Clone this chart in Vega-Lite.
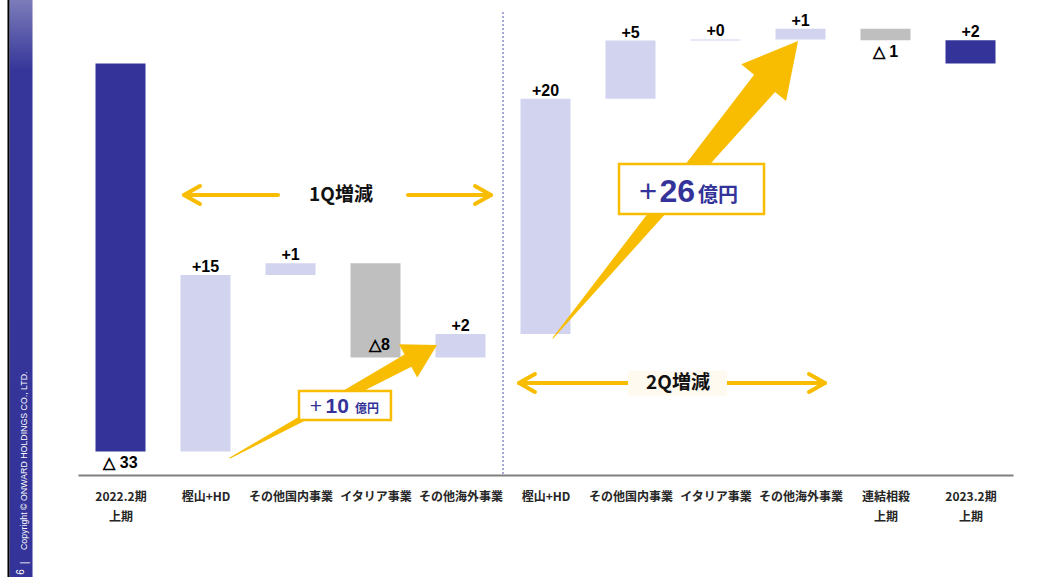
{
  "$schema": "https://vega.github.io/schema/vega-lite/v6.json",
  "width": 935,
  "height": 475,
  "autosize": {"type": "none"},
  "padding": {"left": 78, "top": 0, "right": 29, "bottom": 102},
  "background": "white",
  "config": {"view": {"stroke": null}},
  "datasets": {
    "bars": [
      {"x": 0, "y": -33, "y2": 0, "kind": "total", "lbl": "△ 33"},
      {"x": 1, "y": -18, "y2": -33, "kind": "up", "lbl": "+15"},
      {"x": 2, "y": -17, "y2": -18, "kind": "up", "lbl": "+1"},
      {"x": 3, "y": -25, "y2": -17, "kind": "down", "lbl": "△8"},
      {"x": 4, "y": -23, "y2": -25, "kind": "up", "lbl": "+2"},
      {"x": 5, "y": -3, "y2": -23, "kind": "up", "lbl": "+20"},
      {"x": 6, "y": 1.95, "y2": -3, "kind": "up", "lbl": "+5"},
      {"x": 7, "y": 2.05, "y2": 1.95, "kind": "up", "lbl": "+0"},
      {"x": 8, "y": 2.95, "y2": 2.05, "kind": "up", "lbl": "+1"},
      {"x": 9, "y": 1.98, "y2": 2.95, "kind": "down", "lbl": "△ 1"},
      {"x": 10, "y": 1.98, "y2": 0, "kind": "total", "lbl": "+2"}
    ],
    "dbl": [
      {"seg": "1Ls", "o": 0, "x": 0.747, "y": -11.185},
      {"seg": "1Ls", "o": 1, "x": 1.853, "y": -11.185},
      {"seg": "1Lh", "o": 0, "x": 0.935, "y": -10.42},
      {"seg": "1Lh", "o": 1, "x": 0.747, "y": -11.185},
      {"seg": "1Lh", "o": 2, "x": 0.935, "y": -11.95},
      {"seg": "1Rs", "o": 0, "x": 3.382, "y": -11.185},
      {"seg": "1Rs", "o": 1, "x": 4.359, "y": -11.185},
      {"seg": "1Rh", "o": 0, "x": 4.171, "y": -10.42},
      {"seg": "1Rh", "o": 1, "x": 4.359, "y": -11.185},
      {"seg": "1Rh", "o": 2, "x": 4.171, "y": -11.95},
      {"seg": "2Ls", "o": 0, "x": 4.688, "y": -27.175},
      {"seg": "2Ls", "o": 1, "x": 5.971, "y": -27.175},
      {"seg": "2Lh", "o": 0, "x": 4.876, "y": -26.41},
      {"seg": "2Lh", "o": 1, "x": 4.688, "y": -27.175},
      {"seg": "2Lh", "o": 2, "x": 4.876, "y": -27.94},
      {"seg": "2Rs", "o": 0, "x": 7.135, "y": -27.175},
      {"seg": "2Rs", "o": 1, "x": 8.288, "y": -27.175},
      {"seg": "2Rh", "o": 0, "x": 8.1, "y": -26.41},
      {"seg": "2Rh", "o": 1, "x": 8.288, "y": -27.175},
      {"seg": "2Rh", "o": 2, "x": 8.1, "y": -27.94}
    ],
    "shafts": [
      {"seg": "a1", "o": 0, "x": 1.288, "y": -33.554, "w": 0},
      {"seg": "a1", "o": 1, "x": 3.382, "y": -25.279, "w": 14},
      {"seg": "a2", "o": 0, "x": 5.088, "y": -23.348, "w": 0},
      {"seg": "a2", "o": 1, "x": 7.576, "y": -1.702, "w": 27}
    ],
    "boxes": [
      {"x": 2.1, "x2": 3.182, "y": -27.856, "y2": -30.322},
      {"x": 5.865, "x2": 7.571, "y": -8.549, "y2": -12.801}
    ]
  },
  "encoding": {
    "x": {
      "field": "x", "type": "quantitative",
      "scale": {"domain": [-0.5, 10.5], "nice": false, "zero": false, "padding": 0},
      "axis": {
        "title": null,
        "values": [0, 1, 2, 3, 4, 5, 6, 7, 8, 9, 10],
        "labelExpr": "[['2022.2期','上期'],'樫山+HD','その他国内事業','イタリア事業','その他海外事業','樫山+HD','その他国内事業','イタリア事業','その他海外事業',['連結相殺','上期'],['2023.2期','上期']][datum.value]",
        "ticks": false,
        "grid": false,
        "domainColor": "#7f7f7f",
        "domainWidth": 2,
        "labelFont": "Noto Sans CJK JP",
        "labelFontSize": 12,
        "labelFontWeight": "bold",
        "labelColor": "#262626",
        "labelLineHeight": 20,
        "labelPadding": 16,
        "labelFlush": false,
        "labelOverlap": false
      }
    },
    "y": {
      "field": "y", "type": "quantitative",
      "scale": {"domain": [-35, 5.4], "nice": false, "zero": false, "padding": 0},
      "axis": null
    }
  },
  "layer": [
    {
      "data": {"values": [{"x": -1.306, "x2": -1.035, "y": 5.4, "y2": -44}]},
      "mark": {"type": "rect", "fill": {"gradient": "linear", "x1": 0, "y1": 0, "x2": 0, "y2": 1, "stops": [{"offset": 0, "color": "#7c7cba"}, {"offset": 0.12, "color": "#36369a"}, {"offset": 1, "color": "#333399"}]}},
      "encoding": {"x2": {"field": "x2"}, "y2": {"field": "y2"}}
    },
    {
      "data": {"values": [{"x": -1.318, "y": 5.4, "y2": -44}]},
      "mark": {"type": "rule", "color": "#000000", "strokeWidth": 2},
      "encoding": {"y2": {"field": "y2"}}
    },
    {
      "data": {"values": [{"x": -1.135, "y": -41.38, "t": "Copyright © ONWARD HOLDINGS CO., LTD."}]},
      "mark": {"type": "text", "angle": 270, "align": "left", "baseline": "middle", "font": "Liberation Sans", "fontSize": 8.8, "color": "#ffffff"},
      "encoding": {"text": {"field": "t"}}
    },
    {
      "data": {"values": [{"x": -1.129, "y": -42.48, "t": "|"}, {"x": -1.171, "y": -43.25, "t": "6"}]},
      "mark": {"type": "text", "angle": 270, "align": "center", "baseline": "middle", "font": "Liberation Sans", "fontSize": 10, "color": "#ffffff"},
      "encoding": {"text": {"field": "t"}}
    },
    {
      "data": {"name": "bars"},
      "mark": {"type": "bar", "size": 50},
      "encoding": {
        "y2": {"field": "y2"},
        "color": {"field": "kind", "type": "nominal", "scale": {"domain": ["total", "up", "down"], "range": ["#333399", "#d1d3ef", "#bfbfbf"]}, "legend": null}
      }
    },
    {
      "data": {"name": "bars"},
      "transform": [{"filter": "datum.kind == 'up' || datum.x == 10"}],
      "mark": {"type": "text", "baseline": "alphabetic", "dy": -3, "font": "Liberation Sans", "fontWeight": "bold", "fontSize": 16, "color": "#000000"},
      "encoding": {"text": {"field": "lbl"}}
    },
    {
      "data": {"name": "bars"},
      "transform": [{"filter": "datum.x == 3"}],
      "mark": {"type": "text", "baseline": "alphabetic", "dy": -7, "dx": 4, "font": "Liberation Sans", "fontWeight": "bold", "fontSize": 16, "color": "#000000"},
      "encoding": {"text": {"field": "lbl"}}
    },
    {
      "data": {"name": "bars"},
      "transform": [{"filter": "datum.x == 0 || datum.x == 9"}],
      "mark": {"type": "text", "baseline": "alphabetic", "dy": 17, "font": "Liberation Sans", "fontWeight": "bold", "fontSize": 16, "color": "#000000"},
      "encoding": {"text": {"field": "lbl"}}
    },
    {
      "data": {"values": [{"x": 4.5, "y": 4.38, "y2": -35}]},
      "mark": {"type": "rule", "color": "#8c8cc6", "strokeWidth": 1.5, "strokeDash": [2, 2]},
      "encoding": {"y2": {"field": "y2"}}
    },
    {
      "data": {"name": "shafts"},
      "mark": {"type": "trail", "color": "#F8BD00", "opacity": 1},
      "encoding": {
        "size": {"field": "w", "type": "quantitative", "scale": null, "legend": null},
        "detail": {"field": "seg"},
        "order": {"field": "o"}
      }
    },
    {
      "data": {"values": [{"x": 3.724, "y": -23.943}]},
      "mark": {"type": "point", "shape": "M0,0L0.576,1L-0.576,1Z", "filled": true, "size": 4356, "angle": 61.3, "color": "#F8BD00", "opacity": 1, "strokeWidth": 0}
    },
    {
      "data": {"values": [{"x": 7.971, "y": 1.913}]},
      "mark": {"type": "point", "shape": "M0,0L0.537,1L-0.537,1Z", "filled": true, "size": 11664, "angle": 39.5, "color": "#F8BD00", "opacity": 1, "strokeWidth": 0}
    },
    {
      "data": {"name": "dbl"},
      "mark": {"type": "line", "color": "#F8BD00", "strokeWidth": 4, "strokeCap": "round", "strokeJoin": "round"},
      "encoding": {"detail": {"field": "seg"}, "order": {"field": "o"}}
    },
    {
      "data": {"values": [{"x": 5.971, "x2": 7.135, "y": -26.155, "y2": -28.28}]},
      "mark": {"type": "rect", "fill": "#fffaf0"},
      "encoding": {"x2": {"field": "x2"}, "y2": {"field": "y2"}}
    },
    {
      "data": {"values": [{"x": 2.594, "y": -11.185, "t": "1Q増減"}, {"x": 6.559, "y": -27.175, "t": "2Q増減"}]},
      "mark": {"type": "text", "align": "center", "baseline": "middle", "font": "Noto Sans CJK JP", "fontWeight": "bold", "fontSize": 19, "color": "#111111"},
      "encoding": {"text": {"field": "t"}}
    },
    {
      "data": {"name": "boxes"},
      "mark": {"type": "rect", "fill": "#ffffff", "stroke": "#F8BD00", "strokeWidth": 2.5},
      "encoding": {"x2": {"field": "x2"}, "y2": {"field": "y2"}}
    },
    {
      "data": {"values": [{"x": 2.371, "y": -29.727, "t": "+"}]},
      "mark": {"type": "text", "align": "right", "baseline": "alphabetic", "font": "Liberation Sans", "fontSize": 21, "color": "#333399"},
      "encoding": {"text": {"field": "t"}}
    },
    {
      "data": {"values": [{"x": 2.688, "y": -29.727, "t": "10"}]},
      "mark": {"type": "text", "align": "right", "baseline": "alphabetic", "font": "Liberation Sans", "fontWeight": "bold", "fontSize": 21, "color": "#333399"},
      "encoding": {"text": {"field": "t"}}
    },
    {
      "data": {"values": [{"x": 2.759, "y": -29.727, "t": "億円"}]},
      "mark": {"type": "text", "align": "left", "baseline": "alphabetic", "font": "Noto Sans CJK JP", "fontWeight": "bold", "fontSize": 12, "color": "#333399"},
      "encoding": {"text": {"field": "t"}}
    },
    {
      "data": {"values": [{"x": 6.312, "y": -11.781, "t": "+"}]},
      "mark": {"type": "text", "align": "right", "baseline": "alphabetic", "font": "Liberation Sans", "fontSize": 31, "color": "#333399"},
      "encoding": {"text": {"field": "t"}}
    },
    {
      "data": {"values": [{"x": 6.759, "y": -11.781, "t": "26"}]},
      "mark": {"type": "text", "align": "right", "baseline": "alphabetic", "font": "Liberation Sans", "fontWeight": "bold", "fontSize": 32, "color": "#333399"},
      "encoding": {"text": {"field": "t"}}
    },
    {
      "data": {"values": [{"x": 6.794, "y": -11.781, "t": "億円"}]},
      "mark": {"type": "text", "align": "left", "baseline": "alphabetic", "font": "Noto Sans CJK JP", "fontWeight": "bold", "fontSize": 20, "color": "#333399"},
      "encoding": {"text": {"field": "t"}}
    }
  ]
}
